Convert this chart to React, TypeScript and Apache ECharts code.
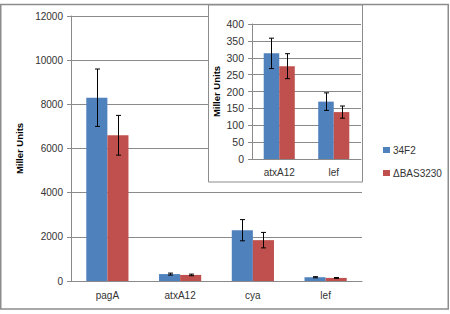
import React, { useEffect, useRef } from "react";
import * as echarts from "echarts";

const categories = ["pagA", "atxA12", "cya", "lef"];
const strain34F2 = [8300, 313, 2300, 170];
const strainDelta = [6600, 275, 1850, 139];
const err34F2 = [1300, 45, 480, 26];
const errDelta = [900, 37, 350, 18];
const insetIdx = [1, 3];
const seriesNames = ["34F2", "\u0394BAS3230"];
const mainTicks = { min: 0, max: 12000, interval: 2000 };
const insetTicks = { min: 0, max: 400, interval: 50 };

const BLUE = "#4F81BD";
const RED = "#C0504D";
const GRIDC = "#8a8a8a";
const FONT = "Liberation Sans, Arial, sans-serif";
const MAIN_GAP = 0.42;
const INSET_GAP = 0.43;

function errRender(sign: number, gap: number) {
  return (params: any, api: any) => {
    const xi = api.value(0);
    const v = api.value(1);
    const e = api.value(2);
    const band = api.size([1, 0])[0];
    const bw = (band * (1 - gap)) / 2;
    const c = api.coord([xi, v]);
    const x = Math.round(c[0] + (sign * bw) / 2) + 0.5;
    const top = api.coord([xi, v + e])[1];
    const bot = api.coord([xi, v - e])[1];
    const cap = 2.5;
    const st = { stroke: "#000", lineWidth: 1 };
    return {
      type: "group",
      children: [
        { type: "line", shape: { x1: x, y1: top, x2: x, y2: bot }, style: st },
        { type: "line", shape: { x1: x - cap, y1: top, x2: x + cap, y2: top }, style: st },
        { type: "line", shape: { x1: x - cap, y1: bot, x2: x + cap, y2: bot }, style: st },
      ],
    };
  };
}

export default function App() {
  const ref = useRef<HTMLDivElement>(null);
  useEffect(() => {
    if (!ref.current) return;
    const chart = echarts.init(ref.current, null, { renderer: "svg" });
    const axisLabel = { color: "#333", fontSize: 10, fontFamily: FONT };
    const nameStyle = { color: "#000", fontSize: 9.5, fontWeight: "bold" as const, fontFamily: FONT };
    const insetCats = insetIdx.map((i) => categories[i]);
    chart.setOption({
      animation: false,
      grid: [
        { left: 71, top: 16, width: 291, height: 265 },
        { left: 252, top: 24, width: 109, height: 135, z: 5 },
      ],
      legend: {
        orient: "vertical",
        left: 378,
        top: 140,
        itemWidth: 7,
        itemHeight: 6,
        itemGap: 13,
        icon: "rect",
        textStyle: { fontSize: 10, color: "#333", fontFamily: FONT, padding: [0, 0, 0, -2] },
        data: seriesNames,
      },
      xAxis: [
        {
          type: "category",
          gridIndex: 0,
          data: categories,
          axisLine: { lineStyle: { color: GRIDC } },
          axisTick: { length: 4, lineStyle: { color: GRIDC } },
          axisLabel: { ...axisLabel, margin: 9 },
        },
        {
          type: "category",
          gridIndex: 1,
          data: insetCats,
          z: 5,
          axisLine: { lineStyle: { color: GRIDC } },
          axisTick: { length: 4, lineStyle: { color: GRIDC } },
          axisLabel: { ...axisLabel, margin: 8 },
        },
      ],
      yAxis: [
        {
          type: "value",
          gridIndex: 0,
          ...mainTicks,
          name: "Miller Units",
          nameLocation: "middle",
          nameRotate: 90,
          nameGap: 42,
          nameTextStyle: nameStyle,
          axisLine: { show: true, lineStyle: { color: GRIDC } },
          axisTick: { show: true, length: 4, lineStyle: { color: GRIDC } },
          splitLine: { lineStyle: { color: GRIDC } },
          axisLabel: { ...axisLabel, margin: 8, formatter: (v: number) => String(v) },
        },
        {
          type: "value",
          gridIndex: 1,
          ...insetTicks,
          z: 5,
          name: "Miller Units",
          nameLocation: "middle",
          nameRotate: 90,
          nameGap: 31,
          nameTextStyle: nameStyle,
          axisLine: { show: true, lineStyle: { color: GRIDC } },
          axisTick: { show: true, length: 4, lineStyle: { color: GRIDC } },
          splitLine: { lineStyle: { color: GRIDC } },
          axisLabel: { ...axisLabel, fontSize: 10.5, margin: 8, formatter: (v: number) => String(v) },
        },
      ],
      graphic: [
        {
          type: "rect",
          z: 0,
          shape: { x: 0.75, y: 4.5, width: 447.5, height: 304.5 },
          style: { fill: "none", stroke: "#8c8c8c", lineWidth: 1.5 },
        },
        {
          type: "rect",
          z: 4,
          shape: { x: 208.5, y: 5, width: 154, height: 177 },
          style: { fill: "#fff", stroke: "#8c8c8c", lineWidth: 1 },
        },
      ],
      series: [
        {
          name: seriesNames[0],
          type: "bar",
          xAxisIndex: 0,
          yAxisIndex: 0,
          data: strain34F2,
          itemStyle: { color: BLUE },
          barGap: "0%",
          barCategoryGap: MAIN_GAP * 100 + "%",
        },
        {
          name: seriesNames[1],
          type: "bar",
          xAxisIndex: 0,
          yAxisIndex: 0,
          data: strainDelta,
          itemStyle: { color: RED },
          barGap: "0%",
          barCategoryGap: MAIN_GAP * 100 + "%",
        },
        {
          type: "custom",
          xAxisIndex: 0,
          yAxisIndex: 0,
          z: 3,
          renderItem: errRender(-1, MAIN_GAP),
          encode: { x: 0, y: 1 },
          data: categories.map((_, i) => [i, strain34F2[i], err34F2[i]]),
        },
        {
          type: "custom",
          xAxisIndex: 0,
          yAxisIndex: 0,
          z: 3,
          renderItem: errRender(1, MAIN_GAP),
          encode: { x: 0, y: 1 },
          data: categories.map((_, i) => [i, strainDelta[i], errDelta[i]]),
        },
        {
          name: seriesNames[0],
          type: "bar",
          xAxisIndex: 1,
          yAxisIndex: 1,
          z: 6,
          data: insetIdx.map((i) => strain34F2[i]),
          itemStyle: { color: BLUE },
          barGap: "0%",
          barCategoryGap: INSET_GAP * 100 + "%",
        },
        {
          name: seriesNames[1],
          type: "bar",
          xAxisIndex: 1,
          yAxisIndex: 1,
          z: 6,
          data: insetIdx.map((i) => strainDelta[i]),
          itemStyle: { color: RED },
          barGap: "0%",
          barCategoryGap: INSET_GAP * 100 + "%",
        },
        {
          type: "custom",
          xAxisIndex: 1,
          yAxisIndex: 1,
          z: 7,
          renderItem: errRender(-1, INSET_GAP),
          encode: { x: 0, y: 1 },
          data: insetIdx.map((i, k) => [k, strain34F2[i], err34F2[i]]),
        },
        {
          type: "custom",
          xAxisIndex: 1,
          yAxisIndex: 1,
          z: 7,
          renderItem: errRender(1, INSET_GAP),
          encode: { x: 0, y: 1 },
          data: insetIdx.map((i, k) => [k, strainDelta[i], errDelta[i]]),
        },
      ],
    });
    return () => chart.dispose();
  }, []);
  return (
    <div
      ref={ref}
      style={{ position: "fixed", left: 0, top: 0, width: 450, height: 314, background: "#fff" }}
    />
  );
}
